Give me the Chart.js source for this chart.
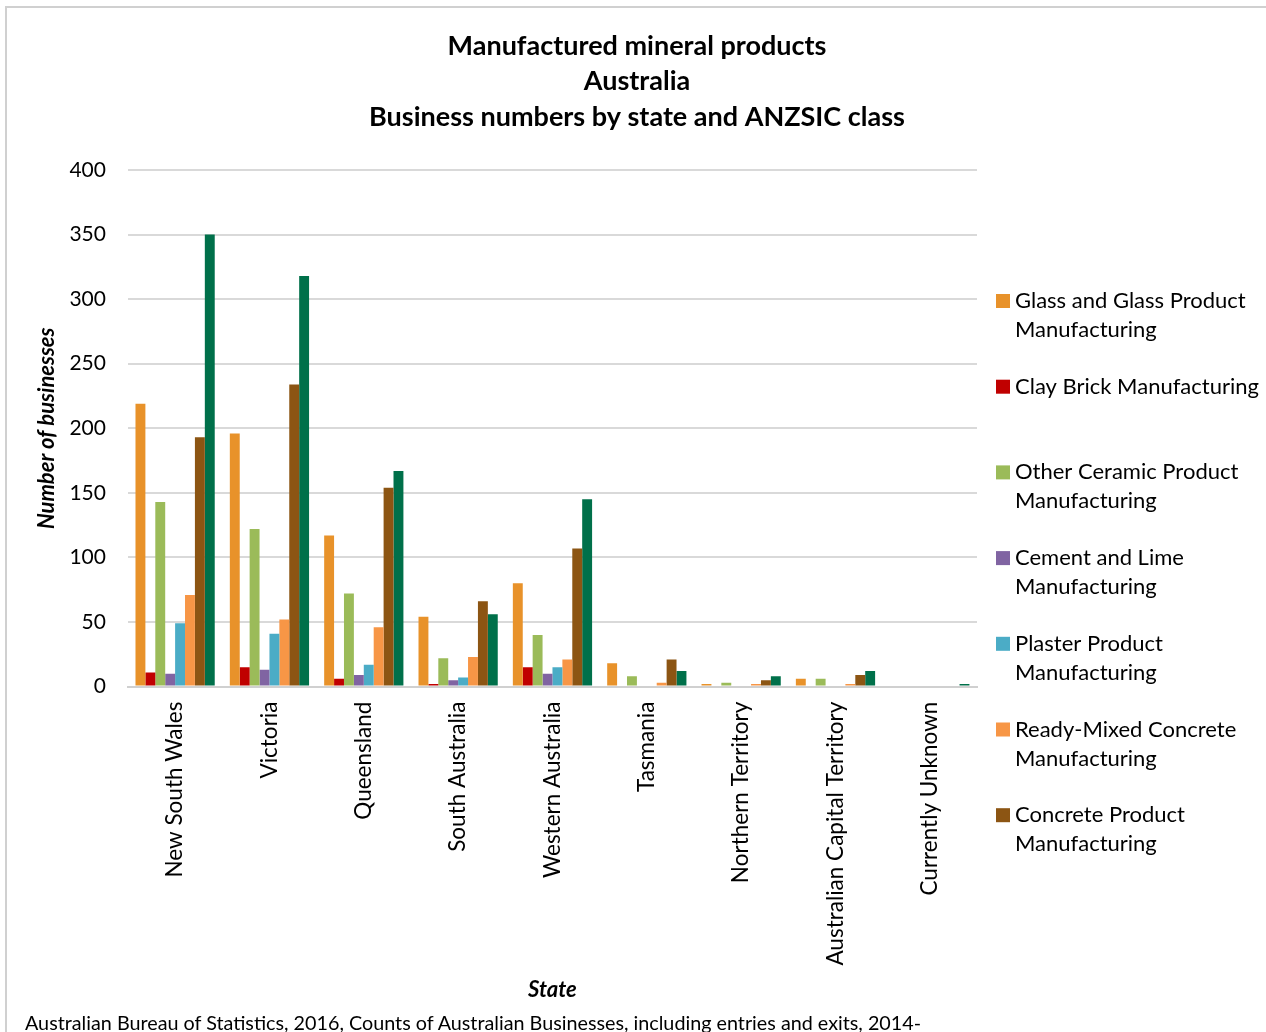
<!DOCTYPE html>
<html>
<head>
<meta charset="utf-8">
<script src="https://cdn.jsdelivr.net/npm/chart.js@4/dist/chart.umd.min.js"></script>
<style>
  html, body { margin: 0; padding: 0; background: #fff; overflow: hidden; }
  #frame { position: absolute; left: 5px; top: 6px; width: 1300px; height: 1100px;
           border-left: 2px solid #d0d0d0; border-top: 2px solid #d0d0d0; box-sizing: border-box; }
  #wrap { position: absolute; left: 0; top: 0; width: 1266px; height: 1032px; }
  #note { position: absolute; left: 25px; top: 1011px; font-family: Lato, "Open Sans", sans-serif;
          font-size: 19.75px; color: #000; white-space: nowrap; }
</style>
</head>
<body>
<div id="frame"></div>
<div id="wrap"><canvas id="c" width="1266" height="1032"></canvas></div>
<div id="note">Australian Bureau of Statistics, 2016, Counts of Australian Businesses, including entries and exits, 2014-</div>
<script>
const states = ["New South Wales","Victoria","Queensland","South Australia","Western Australia","Tasmania","Northern Territory","Australian Capital Territory","Currently Unknown"];
const glass     = [219, 196, 117, 54, 80, 18, 2, 6, 0];
const clayBrick = [11, 15, 6, 2, 15, 0, 0, 0, 0];
const ceramic   = [143, 122, 72, 22, 40, 8, 3, 6, 0];
const cement    = [10, 13, 9, 5, 10, 0, 0, 0, 0];
const plaster   = [49, 41, 17, 7, 15, 0, 0, 0, 0];
const readyMix  = [71, 52, 46, 23, 21, 3, 2, 2, 0];
const concrete  = [193, 234, 154, 66, 107, 21, 5, 9, 0];
const otherNonMetallic = [350, 318, 167, 56, 145, 12, 8, 12, 2];
const yTicks = [0, 50, 100, 150, 200, 250, 300, 350, 400];
const titleLines = ['Manufactured mineral products', 'Australia', 'Business numbers by state and ANZSIC class'];
const seriesNames = ["Glass and Glass Product Manufacturing","Clay Brick Manufacturing","Other Ceramic Product Manufacturing","Cement and Lime Manufacturing","Plaster Product Manufacturing","Ready-Mixed Concrete Manufacturing","Concrete Product Manufacturing","Other Non-Metallic Mineral Product Manufacturing"];
const seriesColors = ["#E8922A","#C00000","#9BBB59","#8064A2","#4BACC6","#F79646","#8C5513","#00704A"];
const seriesValues = [glass, clayBrick, ceramic, cement, plaster, readyMix, concrete, otherNonMetallic];
const legendVisibleCount = 7;

const FONT = 'Lato, "Open Sans", sans-serif';

const titlePlugin = {
  id: 'centerTitle',
  afterDraw(chart) {
    const ctx = chart.ctx;
    ctx.save();
    ctx.font = 'bold 27px ' + FONT;
    ctx.fillStyle = '#000';
    ctx.textAlign = 'center';
    ctx.textBaseline = 'middle';
    titleLines.forEach((t, i) => ctx.fillText(t, chart.width / 2 + 4, 46 + i * 35.5));
    ctx.restore();
  }
};

const legendPlugin = {
  id: 'sideLegend',
  afterDraw(chart) {
    const ctx = chart.ctx;
    const ca = chart.chartArea;
    const x0 = ca.right + 19;
    const textX = x0 + 19;
    const maxW = chart.width - textX - 2;
    ctx.save();
    ctx.font = '22px ' + FONT;
    ctx.textBaseline = 'middle';
    ctx.textAlign = 'left';
    for (let i = 0; i < legendVisibleCount; i++) {
      const ds = chart.data.datasets[i];
      const yc = 301 + i * 85.7;
      ctx.fillStyle = ds.backgroundColor;
      ctx.fillRect(x0, yc - 7, 14, 14);
      const words = ds.label.split(' ');
      const lines = [];
      let cur = '';
      for (const w of words) {
        const t = cur ? cur + ' ' + w : w;
        if (ctx.measureText(t).width > maxW && cur) { lines.push(cur); cur = w; }
        else cur = t;
      }
      if (cur) lines.push(cur);
      ctx.fillStyle = '#000';
      lines.forEach((ln, k) => ctx.fillText(ln, textX, yc + k * 29));
    }
    ctx.restore();
  }
};

new Chart(document.getElementById('c'), {
  type: 'bar',
  data: {
    labels: states,
    datasets: seriesValues.map((v, i) => ({
      label: seriesNames[i],
      data: v,
      backgroundColor: seriesColors[i],
      borderWidth: 0,
      categoryPercentage: 0.84,
      barPercentage: 1.0
    }))
  },
  options: {
    responsive: false,
    animation: false,
    devicePixelRatio: 1,
    layout: { padding: { left: 34, right: 289, top: 170, bottom: 29 } },
    plugins: {
      legend: { display: false },
      tooltip: { enabled: false },
      title: { display: false }
    },
    scales: {
      x: {
        grid: { display: false, drawTicks: false },
        border: { display: true, color: '#d0d0d0', width: 2 },
        ticks: {
          color: '#000',
          font: { family: FONT, size: 22.5 },
          minRotation: 90, maxRotation: 90,
          autoSkip: false,
          padding: 15
        },
        title: {
          display: true, text: 'State', color: '#000',
          font: { family: FONT, size: 22, weight: 'bold', style: 'italic' },
          padding: { top: -4, bottom: 0 }
        }
      },
      y: {
        min: 0, max: 400,
        afterBuildTicks(axis) { axis.ticks = yTicks.map(v => ({ value: v })); },
        afterFit(axis) { axis.width -= 13; },
        grid: { color: '#d9d9d9', lineWidth: 2, drawTicks: false },
        border: { display: false },
        ticks: {
          color: '#000',
          font: { family: FONT, size: 21 },
          padding: 22
        },
        title: {
          display: true, text: 'Number of businesses', color: '#000',
          font: { family: FONT, size: 22, weight: 'bold', style: 'italic' },
          padding: { top: 0, bottom: 0 }
        }
      }
    }
  },
  plugins: [titlePlugin, legendPlugin]
});
</script>
</body>
</html>
